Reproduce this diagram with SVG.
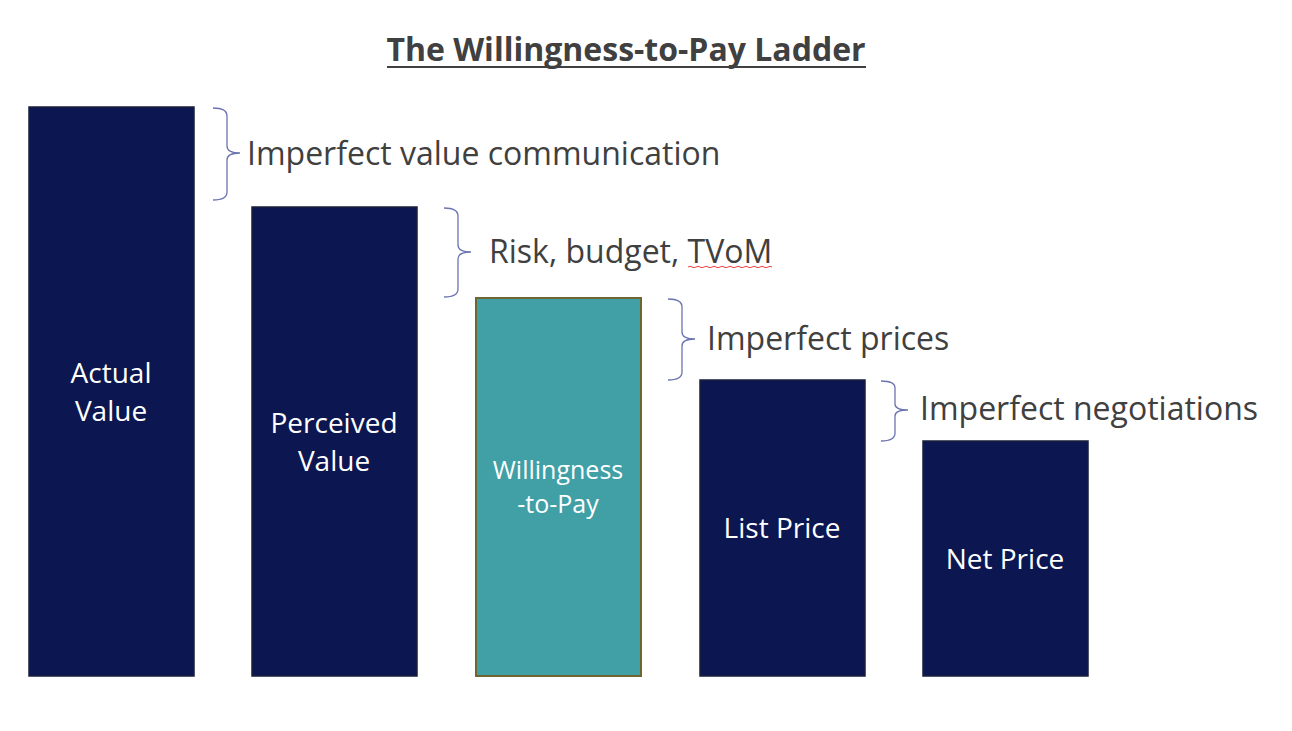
<svg xmlns="http://www.w3.org/2000/svg" width="1292" height="731" viewBox="0 0 1292 731">
<style>
.bar{fill:#0c1650;stroke:#1a1f3a;stroke-width:1.5}
.wtp{fill:#40a0a6;stroke:#6e6530;stroke-width:2}
.lbl{font-family:"Open Sans","Liberation Sans",sans-serif;fill:#ffffff;text-anchor:middle;font-size:28px}
.small{font-size:25px}
.note{font-family:"Open Sans","Liberation Sans",sans-serif;fill:#404040;font-size:32px}
.brace{fill:none;stroke:#6b74b0;stroke-width:1.3}
</style>
<rect width="1292" height="731" fill="#ffffff"/>
<g id="title">
<text x="626" y="61" text-anchor="middle" font-family="'Open Sans','Liberation Sans',sans-serif" font-weight="bold" font-size="32" fill="#404040">The Willingness-to-Pay Ladder</text>
<line x1="387" y1="67" x2="866" y2="67" stroke="#404040" stroke-width="2"/>
</g>
<g id="actual-value">
<rect class="bar" x="29" y="107" width="165" height="569"/>
<text class="lbl" x="111" y="383">Actual</text>
<text class="lbl" x="111" y="421">Value</text>
</g>
<g id="perceived-value">
<rect class="bar" x="252" y="207" width="165" height="469"/>
<text class="lbl" x="334" y="433">Perceived</text>
<text class="lbl" x="334" y="471">Value</text>
</g>
<g id="willingness-to-pay">
<rect class="wtp" x="476" y="298" width="165" height="378"/>
<text class="lbl small" x="558" y="479">Willingness</text>
<text class="lbl small" x="558" y="513">-to-Pay</text>
</g>
<g id="list-price">
<rect class="bar" x="700" y="380" width="165" height="296"/>
<text class="lbl" x="782" y="538">List Price</text>
</g>
<g id="net-price">
<rect class="bar" x="923" y="441" width="165" height="235"/>
<text class="lbl" x="1005" y="569">Net Price</text>
</g>
<g id="connectors">
<path class="brace" d="M213,108 Q227,108 227,116 L227,146 Q227,153 240,153 Q227,153 227,160 L227,192 Q227,200 213,200"/>
<path class="brace" d="M444,208 Q458,208 458,216 L458,245 Q458,252 471,252 Q458,252 458,259 L458,289 Q458,297 444,297"/>
<path class="brace" d="M668,299 Q682,299 682,307 L682,332 Q682,339 695,339 Q682,339 682,346 L682,372 Q682,380 668,380"/>
<path class="brace" d="M881,381 Q895,381 895,388 L895,404 Q895,410 908,410 Q895,410 895,416 L895,433 Q895,441 881,441"/>
</g>
<g id="notes">
<text class="note" x="247" y="165">Imperfect value communication</text>
<text class="note" x="489" y="263">Risk, budget, TVoM</text>
<path d="M688,267 q2,-1.5 4,0 t4,0 t4,0 t4,0 t4,0 t4,0 t4,0 t4,0 t4,0 t4,0 t4,0 t4,0 t4,0 t4,0 t4,0 t4,0 t4,0 t4,0 t4,0 t4,0 t4,0" fill="none" stroke="#f04040" stroke-width="1"/>
<text class="note" x="707" y="350">Imperfect prices</text>
<text class="note" x="920" y="420">Imperfect negotiations</text>
</g>
</svg>
